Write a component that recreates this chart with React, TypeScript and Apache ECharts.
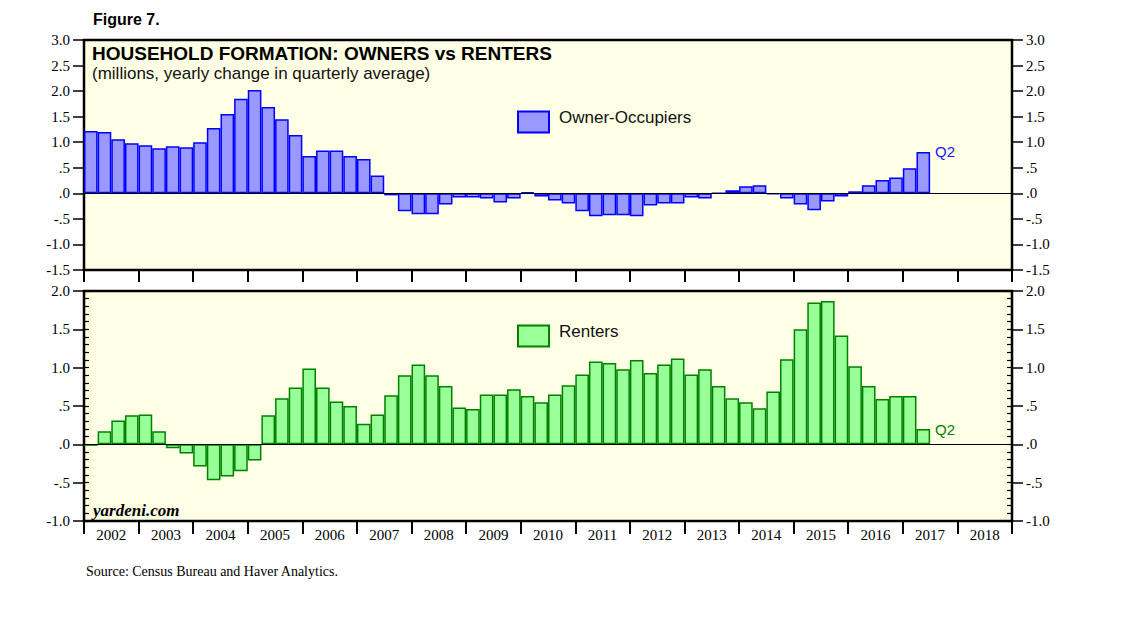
import React, { useEffect, useRef } from "react";
import * as echarts from "echarts";

const years = ["2002","2003","2004","2005","2006","2007","2008","2009","2010","2011","2012","2013","2014","2015","2016","2017","2018"];
const qNames = ["Q1","Q2","Q3","Q4"];
const quarters = years.flatMap((y) => qNames.map((q) => y + q));

const owners = [
  1.22, 1.20, 1.06, 0.98,
  0.94, 0.88, 0.92, 0.90,
  1.00, 1.28, 1.55, 1.85,
  2.02, 1.69, 1.45, 1.14,
  0.73, 0.84, 0.84, 0.73,
  0.67, 0.35, -0.04, -0.35,
  -0.41, -0.41, -0.22, -0.08,
  -0.08, -0.10, -0.18, -0.10,
  0.02, -0.06, -0.14, -0.20,
  -0.35, -0.45, -0.43, -0.43,
  -0.45, -0.24, -0.20, -0.20,
  -0.08, -0.10, 0.00, 0.06,
  0.14, 0.16, -0.02, -0.10,
  -0.22, -0.33, -0.16, -0.06,
  0.04, 0.16, 0.26, 0.31,
  0.49, 0.81,
];

const renters = [
  -0.02, 0.17, 0.31, 0.38,
  0.39, 0.17, -0.05, -0.12,
  -0.29, -0.47, -0.42, -0.35,
  -0.21, 0.38, 0.60, 0.74,
  0.99, 0.74, 0.56, 0.50,
  0.27, 0.39, 0.64, 0.90,
  1.04, 0.90, 0.76, 0.48,
  0.46, 0.65, 0.65, 0.72,
  0.63, 0.55, 0.65, 0.77,
  0.91, 1.08, 1.06, 0.98,
  1.10, 0.93, 1.04, 1.12,
  0.91, 0.98, 0.76, 0.60,
  0.55, 0.47, 0.69, 1.11,
  1.50, 1.85, 1.87, 1.42,
  1.02, 0.76, 0.59, 0.63,
  0.63, 0.20,
];

const lastLabel = "Q2";

const fmt = (v: number) => {
  if (Math.abs(v) < 1e-9) return ".0";
  return v.toFixed(1).replace(/^(-?)0\./, "$1.");
};

const SERIF = "Liberation Serif";
const SANS = "Liberation Sans";

function withLastLabel(arr: number[], color: string) {
  return arr.map((v, i) =>
    i === arr.length - 1
      ? {
          value: v,
          label: {
            show: true,
            formatter: lastLabel,
            position: ["100%", 0],
            offset: [5, 0],
            align: "left",
            verticalAlign: "middle",
            color,
            fontFamily: SANS,
            fontSize: 15,
          },
        }
      : v
  );
}

export default function App() {
  const ref = useRef<HTMLDivElement>(null);
  useEffect(() => {
    if (!ref.current) return;
    const chart = echarts.init(ref.current, null, { renderer: "svg" });
    const majorY = (gridIndex: number, position: string, min: number, max: number) => ({
      type: "value",
      gridIndex,
      position,
      min,
      max,
      interval: 0.5,
      axisLine: { show: false },
      axisTick: { show: true, inside: false, length: 11, lineStyle: { color: "#000", width: 1.5 } },
      axisLabel: {
        show: true,
        formatter: fmt,
        margin: 14,
        color: "#000",
        fontFamily: SERIF,
        fontSize: 15,
      },
      splitLine: { show: false },
    });
    const minorY = (gridIndex: number, position: string, min: number, max: number) => ({
      type: "value",
      gridIndex,
      position,
      min,
      max,
      interval: 0.1,
      axisLine: { show: false },
      axisTick: { show: true, inside: true, length: 5, lineStyle: { color: "#000", width: 1.2 } },
      axisLabel: { show: false },
      splitLine: { show: false },
    });
    const zeroLine = {
      silent: true,
      symbol: "none",
      label: { show: false },
      lineStyle: { color: "#000", width: 1.2, type: "solid" },
      data: [{ yAxis: 0 }],
      z: 10,
    };
    const legendText = {
      fontFamily: SANS,
      fontSize: 17,
      color: "#111",
      rich: { t: { fontFamily: SANS, fontSize: 17, color: "#111", padding: [0, 0, 9, 5] } },
    };
    chart.setOption({
      animation: false,
      grid: [
        { left: 84, top: 40, width: 928, height: 230, show: true, backgroundColor: "#FFFFE6", borderColor: "#000", borderWidth: 2.5 },
        { left: 84, top: 291, width: 928, height: 230, show: true, backgroundColor: "#FFFFE6", borderColor: "#000", borderWidth: 2.5 },
      ],
      xAxis: [
        { type: "category", gridIndex: 0, data: quarters, show: false, boundaryGap: true },
        {
          type: "category",
          gridIndex: 0,
          data: years,
          position: "bottom",
          boundaryGap: true,
          axisLine: { show: false, onZero: false },
          axisTick: { show: true, interval: 0, length: 12, lineStyle: { color: "#000", width: 2 } },
          axisLabel: { show: false },
          splitLine: { show: false },
        },
        { type: "category", gridIndex: 1, data: quarters, show: false, boundaryGap: true },
        {
          type: "category",
          gridIndex: 1,
          data: years,
          position: "bottom",
          boundaryGap: true,
          axisLine: { show: false, onZero: false },
          axisTick: { show: true, interval: 0, length: 13, lineStyle: { color: "#000", width: 2 } },
          axisLabel: { show: true, interval: 0, margin: 6, color: "#000", fontFamily: SERIF, fontSize: 15 },
          splitLine: { show: false },
        },
      ],
      yAxis: [
        majorY(0, "left", -1.5, 3),
        majorY(0, "right", -1.5, 3),
        majorY(1, "left", -1, 2),
        majorY(1, "right", -1, 2),
        minorY(1, "left", -1, 2),
        minorY(1, "right", -1, 2),
      ],
      legend: [
        {
          data: ["Owner-Occupiers"],
          left: 517,
          top: 109,
          padding: 0,
          itemWidth: 31,
          itemHeight: 21,
          icon: "rect",
          selectedMode: false,
          formatter: "{t|{name}}",
          textStyle: legendText,
        },
        {
          data: ["Renters"],
          left: 517,
          top: 323,
          padding: 0,
          itemWidth: 31,
          itemHeight: 21,
          icon: "rect",
          selectedMode: false,
          formatter: "{t|{name}}",
          textStyle: legendText,
        },
      ],
      series: [
        {
          name: "Owner-Occupiers",
          type: "bar",
          xAxisIndex: 0,
          yAxisIndex: 0,
          barCategoryGap: "0%",
          itemStyle: { color: "#9999FF", borderColor: "#0000FF", borderWidth: 1.5 },
          data: withLastLabel(owners, "#1515FF"),
          markLine: zeroLine,
        },
        {
          name: "Renters",
          type: "bar",
          xAxisIndex: 2,
          yAxisIndex: 2,
          barCategoryGap: "0%",
          itemStyle: { color: "#99FF99", borderColor: "#008000", borderWidth: 1.5 },
          data: withLastLabel(renters, "#008000"),
          markLine: zeroLine,
        },
      ],
      graphic: [
        { type: "text", left: 93, top: 11, z: 100, style: { text: "Figure 7.", font: `bold 16px ${SANS}`, fill: "#000" } },
        { type: "text", left: 92, top: 44, z: 100, style: { text: "HOUSEHOLD FORMATION: OWNERS vs RENTERS", font: `bold 19px ${SANS}`, fill: "#000" } },
        { type: "text", left: 92, top: 65, z: 100, style: { text: "(millions, yearly change in quarterly average)", font: `17px ${SANS}`, fill: "#111" } },
        { type: "text", left: 93, top: 502, z: 100, style: { text: "yardeni.com", font: `bold italic 17px ${SERIF}`, fill: "#000" } },
        { type: "text", left: 86, top: 564, z: 100, style: { text: "Source: Census Bureau and Haver Analytics.", font: `14px ${SERIF}`, fill: "#000" } },
      ],
    });
    return () => chart.dispose();
  }, []);
  return <div ref={ref} style={{ position: "absolute", left: 0, top: 0, width: 1138, height: 621, background: "#fff" }} />;
}
